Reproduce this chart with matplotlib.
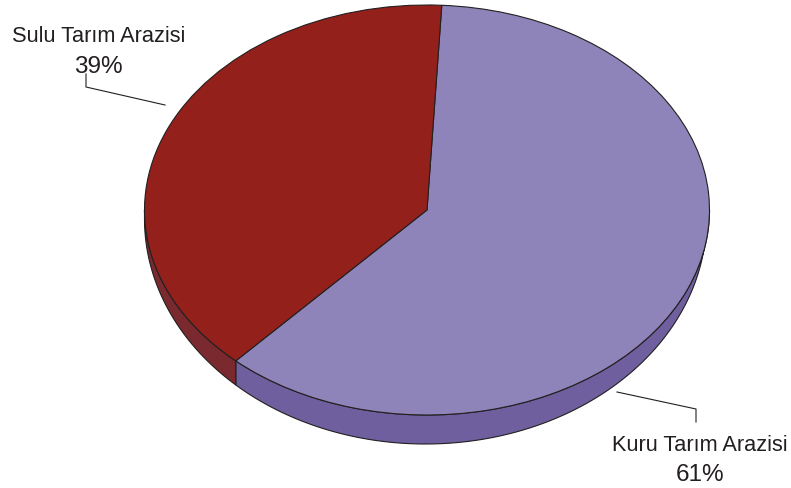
import matplotlib
matplotlib.use('Agg')
import matplotlib.pyplot as plt
import numpy as np

labels = ['Kuru Tarım Arazisi', 'Sulu Tarım Arazisi']
values = [61, 39]
top_colors = ['#8E84B9', '#94201B']
side_colors = ['#6F5F9E', '#7A2A2E']

# pie geometry in image pixels
cx, cy = 427, 211
rx, ry = 282.5, 205
# lower rim is its own ellipse, the disc looks tapered
cx2, cy2 = 425.5, 220
rx2, ry2 = 281, 225
edge = '#231F20'

def px(x, y):
    return (x - cx) / rx, (cy - y) / ry

def rim_angle(deg):
    # angle on the lower rim right under a point of the top ellipse
    x = cx + rx * np.cos(np.radians(deg))
    c = np.clip((x - cx2) / rx2, -1, 1)
    return 360 - np.degrees(np.arccos(c))

fig = plt.figure(figsize=(7.91, 4.89), dpi=100)
ax = fig.add_axes([0, 0, 1, 1])

wedges, _ = ax.pie(values, startangle=87, counterclock=False, colors=top_colors,
                   wedgeprops={'edgecolor': edge, 'linewidth': 0.8, 'zorder': 3})
ax.set_aspect('auto')
ax.set_xlim(px(0, 0)[0], px(791, 0)[0])
ax.set_ylim(px(0, 489)[1], px(0, 0)[1])
ax.axis('off')

# thickness of the disc, only the front half shows
for w, c in zip(wedges, side_colors):
    t1 = w.theta1 % 360
    t2 = t1 + (w.theta2 - w.theta1)
    for shift in (0, 360):
        a = max(t1, 180 + shift)
        b = min(t2, 360 + shift)
        if b <= a:
            continue
        t = np.radians(np.linspace(a, b, 200))
        r = np.radians(np.linspace(rim_angle(a), rim_angle(b), 200))
        xs = np.r_[np.cos(t), ((cx2 + rx2 * np.cos(r)[::-1]) - cx) / rx]
        ys = np.r_[np.sin(t), (cy - (cy2 - ry2 * np.sin(r)[::-1])) / ry]
        ax.fill(xs, ys, facecolor=c, edgecolor=edge, linewidth=0.8, zorder=2)

# leader lines
for pts in ([(86, 75), (86, 88), (165, 106)], [(696, 423), (696, 410), (617, 393)]):
    xy = np.array([px(*p) for p in pts])
    ax.plot(xy[:, 0], xy[:, 1], color=edge, lw=0.8, zorder=4)

font = {'family': ['Liberation Sans', 'DejaVu Sans'], 'fontsize': 15.7,
        'color': edge, 'ha': 'center', 'va': 'baseline'}
ax.text(*px(99, 41.5), labels[1], **font)
ax.text(*px(98, 72.5), f'{values[1]}%', fontstretch='condensed', **{**font, 'fontsize': 17.5})
ax.text(*px(700, 451.5), labels[0], **font)
ax.text(*px(700, 481.5), f'{values[0]}%', fontstretch='condensed', **{**font, 'fontsize': 17.5})

fig.savefig('out.png', dpi=100)
